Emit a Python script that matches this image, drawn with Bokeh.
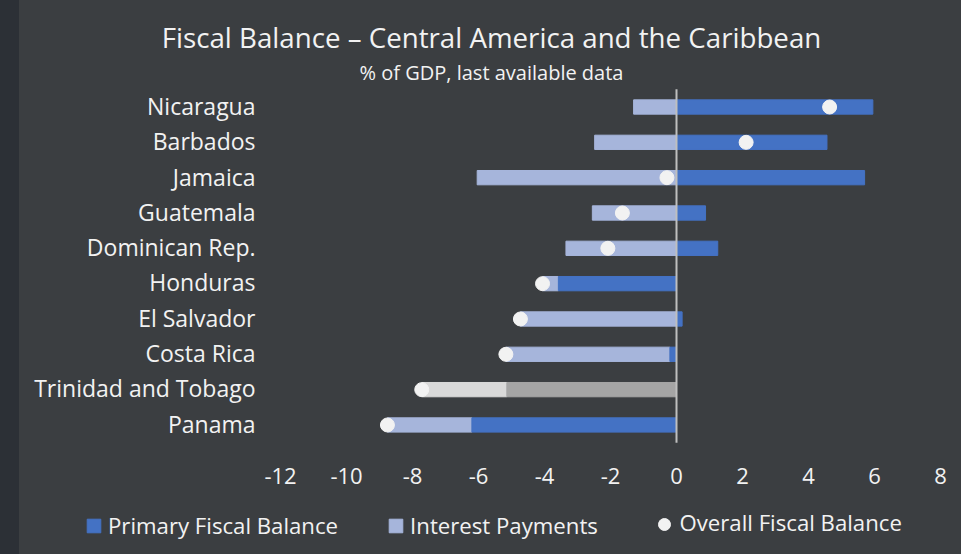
from bokeh.plotting import figure
from bokeh.models import (Range1d, Legend, LegendItem, ColumnDataSource,
                          GlobalInlineStyleSheet)
from bokeh.core.properties import value
from bokeh.embed import file_html
from bokeh.resources import INLINE

# ---------------- data ----------------
countries = ["Nicaragua", "Barbados", "Jamaica", "Guatemala", "Dominican Rep.",
             "Honduras", "El Salvador", "Costa Rica", "Trinidad and Tobago", "Panama"]
primary_balance = [5.95, 4.56, 5.70, 0.88, 1.25, -3.58, 0.17, -0.20, -5.14, -6.20]
interest_payments = [1.30, 2.48, 6.04, 2.55, 3.35, 0.48, 4.73, 4.97, 2.58, 2.56]
overall_balance = [4.64, 2.11, -0.29, -1.64, -2.08, -4.06, -4.73, -5.17, -7.72, -8.76]
x_ticks = [-12, -10, -8, -6, -4, -2, 0, 2, 4, 6, 8]

TITLE = "Fiscal Balance \u2013 Central America and the Caribbean"
SUBTITLE = "% of GDP, last available data"
LEGEND_LABELS = ["Primary Fiscal Balance", "Interest Payments", "Overall Fiscal Balance"]

# ---------------- styles / layout ----------------
FONT = "Open Sans"
TXT = "#F2F2F2"
BLUE = "#4472C4"
LIGHT = "#A6B5DB"
GREY_D = "#A5A5A5"
GREY_L = "#D9D9D9"
W, H = 961, 554
PX_PER_UNIT = 33.0      # horizontal scale
ZERO_PX = 676.0         # page x of value 0
ROW0_PX = 106.5         # page y of first row centre
ROW_PX = 35.33          # row pitch
BASE_FIX = 0.42         # baseline correction, fraction of font size


def row_of(py):
    """page y (px) -> row coordinate"""
    return (py - ROW0_PX) / ROW_PX


def val_of(px):
    """page x (px) -> value coordinate"""
    return (px - ZERO_PX) / PX_PER_UNIT


n = len(countries)
rows = list(range(n))
prim_left = [min(v, 0) for v in primary_balance]
prim_right = [max(v, 0) for v in primary_balance]
int_right = [min(v, 0) for v in primary_balance]
int_left = [r - i for r, i in zip(int_right, interest_payments)]
prim_colors = [GREY_D if c == "Trinidad and Tobago" else BLUE for c in countries]
int_colors = [GREY_L if c == "Trinidad and Tobago" else LIGHT for c in countries]

src = ColumnDataSource(dict(country=countries, row=rows, pl=prim_left, pr=prim_right,
                            il=int_left, ir=int_right, ov=overall_balance,
                            pc=prim_colors, ic=int_colors))

p = figure(width=W, height=H, output_backend="svg", toolbar_location=None,
           x_range=Range1d(val_of(0), val_of(W)),
           y_range=Range1d(row_of(H), row_of(0)),
           x_axis_type=None, y_axis_type=None, min_border=0)
p.stylesheets = [GlobalInlineStyleSheet(css="html, body {background: linear-gradient(90deg, #2c3036 0px, #2c3036 19px, #3b3e41 19px); overflow: hidden;}")]
p.background_fill_alpha = 0
p.border_fill_alpha = 0
p.outline_line_color = None
p.grid.visible = False

r_int = p.hbar(y="row", left="il", right="ir", height=0.405, color="ic", source=src)
r_prim = p.hbar(y="row", left="pl", right="pr", height=0.405, color="pc", source=src)
p.segment(x0=[0], y0=[-0.5], x1=[0], y1=[n - 0.5], line_color="#BFBFBF", line_width=2)
r_dot = p.scatter(x="ov", y="row", size=14, color=TXT, source=src)


def label(xs, ys, texts, size, align, dy=0.0):
    p.text(x=xs, y=ys, text=texts, text_align=align, text_baseline="alphabetic",
           y_offset=dy - BASE_FIX * size, text_font=value(FONT),
           text_font_size=f"{size}px", text_color=TXT)


# category labels (y axis)
label([val_of(255)] * n, rows, countries, 23, "right", dy=8.5)
# x tick labels
label(x_ticks, [row_of(485)] * len(x_ticks), [str(t) for t in x_ticks], 22, "center")
# titles
label([val_of(491)], [row_of(48)], [TITLE], 27.7, "center")
label([val_of(491)], [row_of(80)], [SUBTITLE], 20, "center")

# legend: two bar items via Legend, the dot item drawn alongside
legend = Legend(items=[LegendItem(label=lab, renderers=[r], index=0)
                       for lab, r in zip(LEGEND_LABELS[:2], [r_prim, r_int])],
                orientation="horizontal", location=(85, 13),
                glyph_width=17, glyph_height=17, label_standoff=6, spacing=49,
                padding=0, margin=0, background_fill_alpha=0, border_line_alpha=0,
                label_text_font=FONT, label_text_font_size="22.2px", label_text_color=TXT)
p.add_layout(legend, "center")
p.scatter(x=[val_of(664)], y=[row_of(524)], size=12, color=TXT)
label([val_of(679)], [row_of(531.5)], [LEGEND_LABELS[2]], 22.2, "left")

open("out.html", "w").write(file_html(p, INLINE))
